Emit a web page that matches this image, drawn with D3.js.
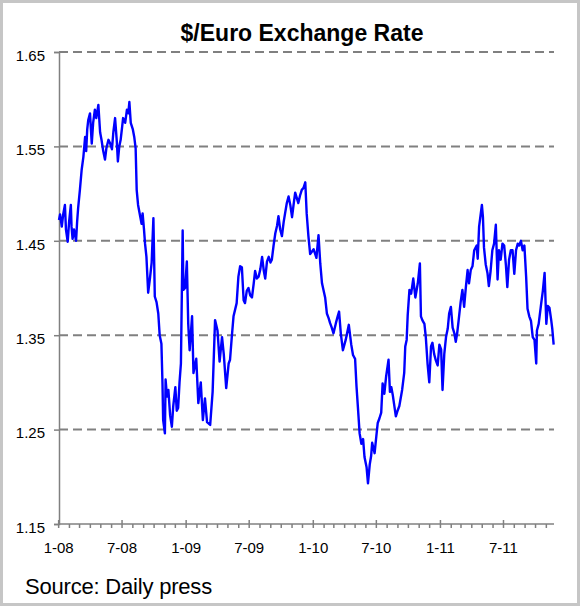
<!DOCTYPE html>
<html><head><meta charset="utf-8">
<script src="https://cdn.jsdelivr.net/npm/d3@7"></script>
<style>
html,body{margin:0;padding:0;background:#fff;}
text{font-family:"Liberation Sans",Arial,sans-serif;}
</style></head>
<body><svg id="c" width="581" height="607"></svg>
<script>
const title = "$/Euro Exchange Rate";
const source = "Source: Daily press";
const yTicks = [1.15, 1.25, 1.35, 1.45, 1.55, 1.65];
const xTickLabels = ["1-08","7-08","1-09","7-09","1-10","7-10","1-11","7-11"];
const dates = [
"2008-01-02","2008-01-05","2008-01-10","2008-01-14","2008-01-19","2008-01-22","2008-01-27","2008-01-31","2008-02-05","2008-02-07",
"2008-02-10","2008-02-14","2008-02-20","2008-02-23","2008-02-26","2008-03-02","2008-03-07","2008-03-12","2008-03-17","2008-03-20",
"2008-03-23","2008-03-26","2008-03-31","2008-04-05","2008-04-09","2008-04-14","2008-04-18","2008-04-24","2008-04-29","2008-05-03",
"2008-05-08","2008-05-13","2008-05-17","2008-05-23","2008-05-28","2008-06-02","2008-06-06","2008-06-11","2008-06-16","2008-06-19",
"2008-06-23","2008-06-27","2008-07-01","2008-07-04","2008-07-10","2008-07-15","2008-07-19","2008-07-22","2008-07-26","2008-08-01",
"2008-08-05","2008-08-09","2008-08-12","2008-08-16","2008-08-22","2008-08-26","2008-08-29","2008-09-02","2008-09-05","2008-09-09",
"2008-09-14","2008-09-19","2008-09-24","2008-09-29","2008-10-03","2008-10-08","2008-10-13","2008-10-17","2008-10-22","2008-10-25",
"2008-10-27","2008-11-01","2008-11-03","2008-11-07","2008-11-11","2008-11-16","2008-11-21","2008-11-25","2008-12-01","2008-12-05",
"2008-12-09","2008-12-13","2008-12-17","2008-12-22","2008-12-24","2008-12-29","2009-01-03","2009-01-07","2009-01-11","2009-01-18",
"2009-01-22","2009-01-30","2009-02-05","2009-02-12","2009-02-18","2009-02-24","2009-03-02","2009-03-11","2009-03-18","2009-03-25",
"2009-04-01","2009-04-07","2009-04-14","2009-04-19","2009-04-26","2009-05-03","2009-05-07","2009-05-12","2009-05-17","2009-05-26",
"2009-05-31","2009-06-05","2009-06-10","2009-06-15","2009-06-19","2009-06-24","2009-06-29","2009-07-04","2009-07-09","2009-07-14",
"2009-07-18","2009-07-23","2009-07-28","2009-08-02","2009-08-07","2009-08-12","2009-08-16","2009-08-21","2009-08-26","2009-08-31",
"2009-09-04","2009-09-09","2009-09-14","2009-09-19","2009-09-23","2009-09-28","2009-10-03","2009-10-08","2009-10-12","2009-10-17",
"2009-10-22","2009-10-27","2009-11-01","2009-11-06","2009-11-10","2009-11-15","2009-11-19","2009-11-24","2009-11-29","2009-12-04",
"2009-12-09","2009-12-13","2009-12-18","2009-12-23","2010-01-02","2010-01-10","2010-01-16","2010-01-21","2010-01-26","2010-02-04",
"2010-02-09","2010-02-14","2010-02-18","2010-02-23","2010-02-28","2010-03-07","2010-03-12","2010-03-16","2010-03-21","2010-03-27",
"2010-04-04","2010-04-08","2010-04-13","2010-04-20","2010-04-25","2010-05-01","2010-05-05","2010-05-09","2010-05-14","2010-05-19",
"2010-05-24","2010-05-28","2010-06-03","2010-06-07","2010-06-12","2010-06-16","2010-06-19","2010-06-26","2010-07-01","2010-07-05",
"2010-07-10","2010-07-15","2010-07-19","2010-07-24","2010-07-29","2010-08-05","2010-08-09","2010-08-13","2010-08-17","2010-08-26",
"2010-08-31","2010-09-05","2010-09-13","2010-09-19","2010-09-22","2010-09-26","2010-09-29","2010-10-04","2010-10-09","2010-10-15",
"2010-10-21","2010-10-28","2010-11-03","2010-11-06","2010-11-10","2010-11-16","2010-11-20","2010-11-25","2010-11-30","2010-12-05",
"2010-12-09","2010-12-14","2010-12-19","2010-12-24","2010-12-29","2011-01-03","2011-01-07","2011-01-12","2011-01-17","2011-01-22",
"2011-01-26","2011-01-31","2011-02-05","2011-02-10","2011-02-14","2011-02-18","2011-02-22","2011-02-28","2011-03-05","2011-03-10",
"2011-03-15","2011-03-20","2011-03-24","2011-03-29","2011-04-03","2011-04-08","2011-04-15","2011-04-18","2011-04-22","2011-04-30",
"2011-05-03","2011-05-06","2011-05-11","2011-05-16","2011-05-20","2011-05-25","2011-05-30","2011-06-04","2011-06-09","2011-06-14",
"2011-06-18","2011-06-23","2011-06-28","2011-07-03","2011-07-08","2011-07-12","2011-07-17","2011-07-22","2011-07-27","2011-08-01",
"2011-08-06","2011-08-11","2011-08-15","2011-08-20","2011-08-25","2011-08-30","2011-09-04","2011-09-08","2011-09-13","2011-09-18",
"2011-09-23","2011-09-28","2011-10-03","2011-10-05","2011-10-10","2011-10-17","2011-10-22","2011-10-27","2011-11-01","2011-11-05",
"2011-11-10","2011-11-15","2011-11-18","2011-11-22"
];
const rates = [
1.472,1.478,1.465,1.478,1.488,1.462,1.449,1.470,1.488,1.465,
1.452,1.462,1.450,1.470,1.485,1.504,1.525,1.539,1.560,1.545,
1.568,1.578,1.585,1.553,1.575,1.589,1.580,1.594,1.565,1.557,
1.545,1.536,1.548,1.557,1.553,1.547,1.565,1.580,1.555,1.534,
1.550,1.557,1.570,1.580,1.575,1.589,1.585,1.597,1.575,1.568,
1.560,1.548,1.504,1.488,1.476,1.468,1.479,1.462,1.447,1.433,
1.395,1.410,1.427,1.474,1.391,1.385,1.373,1.350,1.341,1.300,
1.260,1.246,1.303,1.285,1.292,1.265,1.253,1.275,1.295,1.270,
1.273,1.300,1.320,1.461,1.398,1.400,1.428,1.362,1.334,1.370,
1.310,1.325,1.278,1.300,1.260,1.283,1.258,1.255,1.290,1.366,
1.355,1.322,1.348,1.330,1.294,1.320,1.324,1.348,1.370,1.384,
1.412,1.423,1.422,1.387,1.384,1.397,1.400,1.392,1.390,1.405,
1.418,1.410,1.412,1.420,1.433,1.418,1.410,1.428,1.433,1.427,
1.430,1.445,1.458,1.466,1.476,1.462,1.455,1.470,1.479,1.490,
1.497,1.488,1.475,1.490,1.501,1.495,1.490,1.498,1.504,1.506,
1.512,1.479,1.455,1.436,1.441,1.432,1.456,1.426,1.405,1.390,
1.373,1.368,1.363,1.358,1.352,1.363,1.370,1.375,1.352,1.334,
1.345,1.352,1.361,1.340,1.329,1.325,1.296,1.274,1.246,1.235,
1.240,1.221,1.210,1.193,1.213,1.222,1.236,1.225,1.243,1.257,
1.262,1.268,1.299,1.288,1.306,1.324,1.290,1.295,1.287,1.264,
1.270,1.275,1.292,1.310,1.338,1.345,1.371,1.398,1.394,1.410,
1.390,1.405,1.426,1.370,1.366,1.362,1.348,1.320,1.300,1.338,
1.342,1.330,1.323,1.318,1.340,1.335,1.292,1.330,1.348,1.357,
1.373,1.380,1.358,1.352,1.343,1.352,1.365,1.385,1.398,1.380,
1.401,1.419,1.405,1.419,1.423,1.440,1.445,1.431,1.465,1.488,
1.475,1.443,1.425,1.416,1.402,1.418,1.440,1.447,1.467,1.409,
1.440,1.430,1.447,1.445,1.424,1.401,1.430,1.440,1.440,1.415,
1.440,1.447,1.445,1.450,1.440,1.445,1.412,1.378,1.370,1.365,
1.348,1.345,1.320,1.355,1.362,1.383,1.397,1.416,1.362,1.381,
1.379,1.366,1.357,1.340
];

const parse = d3.timeParse("%Y-%m-%d");
const data = dates.map((d, i) => ({date: parse(d), value: rates[i]}));

const svg = d3.select("#c");
const W = 581, H = 607;
// outer frame
svg.append("rect").attr("x", 1.5).attr("y", 1.5).attr("width", W - 4).attr("height", H - 4)
  .attr("fill", "#fff").attr("stroke", "#c6c6c6").attr("stroke-width", 3);

const x = d3.scaleTime().domain([parse("2008-01-02"), parse("2011-11-23")]).range([59, 554]);
const y = d3.scaleLinear().domain([1.15, 1.65]).range([524, 52]);

// title
svg.append("text").attr("x", 302).attr("y", 41).attr("text-anchor", "middle")
  .attr("font-weight", "bold").attr("font-size", 23).attr("fill", "#000").text(title);

// gridlines
svg.append("g").selectAll("line").data(yTicks.filter(t => t > 1.15)).join("line")
  .attr("x1", 59).attr("x2", 554).attr("y1", d => y(d)).attr("y2", d => y(d))
  .attr("stroke", "#808080").attr("stroke-width", 2).attr("stroke-dasharray", "9,5");

// y axis
const yAxis = d3.axisLeft(y).tickValues(yTicks).tickSize(5).tickFormat(d3.format(".2f"));
const gy = svg.append("g").attr("transform", "translate(59,0)").call(yAxis);
gy.select(".domain").attr("stroke", "#808080").attr("stroke-width", 1.5);
gy.selectAll(".tick line").attr("stroke", "#808080").attr("stroke-width", 1.5);
gy.selectAll(".tick text").attr("font-size", 15).attr("fill", "#000").attr("x", -14).attr("dy", "0.55em")
  .attr("font-family", "'Liberation Sans', Arial, sans-serif");

// x axis minor ticks (monthly)
const months = d3.timeMonth.range(parse("2008-01-01"), parse("2011-11-23"));
const gx = svg.append("g").attr("transform", "translate(0,524)");
gx.append("line").attr("x1", 59).attr("x2", 554).attr("y1", 0).attr("y2", 0)
  .attr("stroke", "#808080").attr("stroke-width", 1.5);
gx.selectAll("line.minor").data(months).join("line").attr("class", "minor")
  .attr("x1", d => x(d)).attr("x2", d => x(d)).attr("y1", d => d.getMonth() % 6 === 0 ? -4 : 0).attr("y2", 4)
  .attr("stroke", "#808080").attr("stroke-width", 1.5);
const majors = months.filter(d => d.getMonth() % 6 === 0);
gx.selectAll("text").data(majors).join("text")
  .attr("x", d => x(d)).attr("y", 29).attr("text-anchor", "middle")
  .attr("font-size", 15).attr("fill", "#000")
  .text((d, i) => xTickLabels[i]);

// line
const line = d3.line().x(d => x(d.date)).y(d => y(d.value));
svg.append("path").datum(data).attr("d", line).attr("fill", "none")
  .attr("stroke", "#0000ff").attr("stroke-width", 2.4).attr("stroke-linejoin", "round");

// source
svg.append("text").attr("x", 25).attr("y", 594).attr("font-size", 22).attr("fill", "#000")
  .attr("letter-spacing", "-0.2").text(source);
</script></body></html>
